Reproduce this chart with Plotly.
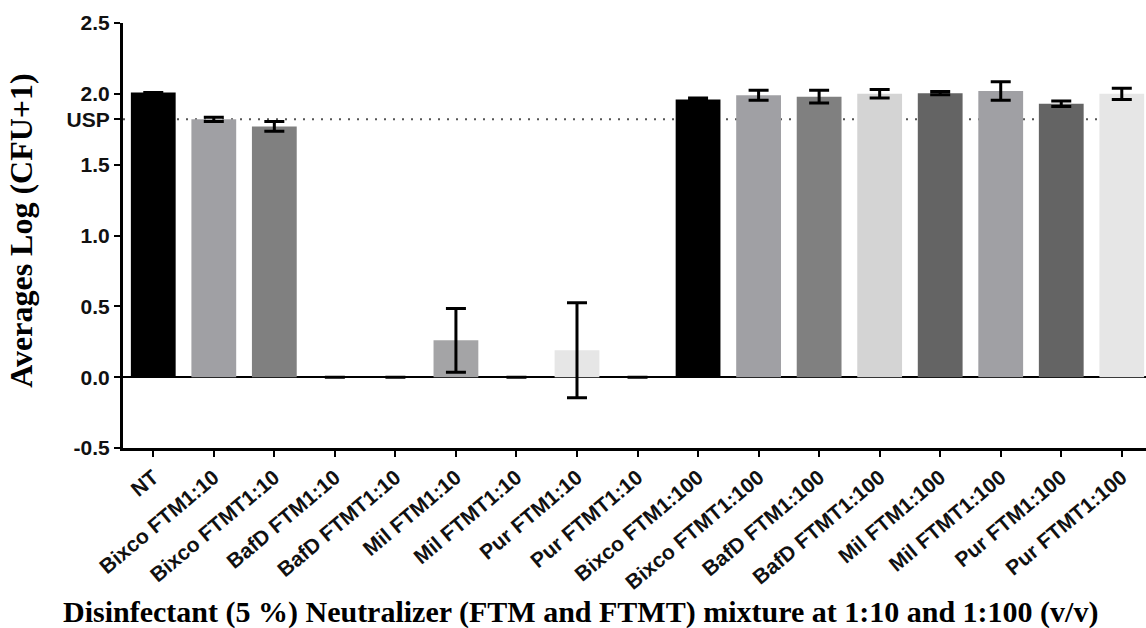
import plotly.graph_objects as go

categories = ["NT", "Bixco FTM1:10", "Bixco FTMT1:10", "BafD FTM1:10", "BafD FTMT1:10",
              "Mil FTM1:10", "Mil FTMT1:10", "Pur FTM1:10", "Pur FTMT1:10",
              "Bixco FTM1:100", "Bixco FTMT1:100", "BafD FTM1:100", "BafD FTMT1:100",
              "Mil FTM1:100", "Mil FTMT1:100", "Pur FTM1:100", "Pur FTMT1:100"]
means = [2.01, 1.82, 1.77, 0.0, 0.0, 0.26, 0.0, 0.19, 0.0,
         1.96, 1.99, 1.98, 2.0, 2.005, 2.02, 1.93, 2.0]
errors = [None, 0.015, 0.035, None, None, 0.225, None, 0.335, None,
          0.01, 0.035, 0.045, 0.03, 0.012, 0.065, 0.02, 0.04]
bar_colors = ["#000000", "#a0a0a4", "#808080", "#d4d4d4", "#646464",
              "#a4a4a6", "#646464", "#e6e6e6", "#e6e6e6",
              "#000000", "#a0a0a4", "#808080", "#d4d4d4", "#646464",
              "#a0a0a4", "#646464", "#e6e6e6"]
usp_level = 1.82
ytick_vals = [-0.5, 0.0, 0.5, 1.0, 1.5, usp_level, 2.0, 2.5]
ytick_text = ["-0.5", "0.0", "0.5", "1.0", "1.5", "USP", "2.0", "2.5"]
y_title = "Averages Log (CFU+1)"
x_title = "Disinfectant (5 %) Neutralizer (FTM and FTMT) mixture at 1:10 and 1:100 (v/v)"

fig = go.Figure()
fig.add_trace(go.Bar(
    x=categories, y=means,
    marker=dict(color=bar_colors, line=dict(width=0)),
    error_y=dict(type="data", array=errors, visible=True,
                 color="#000000", thickness=3, width=10),
    width=0.74,
    showlegend=False,
))

fig.add_shape(type="line", xref="paper", yref="y", x0=0, x1=1,
              y0=usp_level, y1=usp_level, layer="below",
              line=dict(color="#555555", width=2, dash="2px,7px"))

fig.update_layout(
    width=1146, height=628,
    margin=dict(l=123, r=0, t=23, b=180),
    paper_bgcolor="white", plot_bgcolor="white",
    xaxis=dict(
        type="category", range=[-0.5, 16.4],
        showline=True, linecolor="black", linewidth=3,
        ticks="outside", ticklen=6, tickwidth=2, tickcolor="black",
        tickangle=-40, showgrid=False, zeroline=False,
        tickfont=dict(family="Liberation Sans", size=21, color="#111111", weight="bold"),
    ),
    yaxis=dict(
        range=[-0.5, 2.5],
        showline=True, linecolor="black", linewidth=3,
        ticks="outside", ticklen=6, tickwidth=2, tickcolor="black",
        tickvals=ytick_vals, ticktext=ytick_text,
        showgrid=False, zeroline=True, zerolinecolor="black", zerolinewidth=2,
        tickfont=dict(family="Liberation Sans", size=21, color="#111111", weight="bold"),
    ),
    annotations=[
        dict(text=y_title, xref="paper", yref="paper", x=-0.1, y=0.5106,
             textangle=-90, showarrow=False, xanchor="center", yanchor="middle",
             font=dict(family="Liberation Serif", size=32, color="black", weight="bold")),
        dict(text=x_title, xref="paper", yref="paper", x=0.4470, y=-0.386,
             showarrow=False, xanchor="center", yanchor="middle",
             font=dict(family="Liberation Serif", size=30, color="black", weight="bold")),
    ],
)

fig.write_html("out.html")
